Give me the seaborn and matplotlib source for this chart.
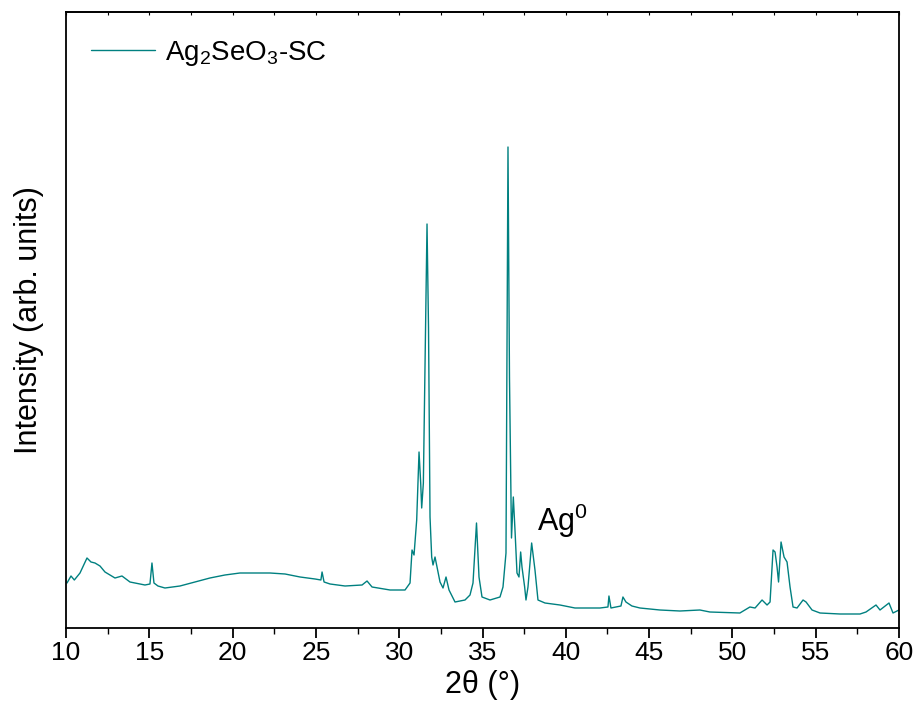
import matplotlib
matplotlib.use("Agg")
import matplotlib.pyplot as plt
import numpy as np
import pandas as pd
import seaborn as sns
from matplotlib.ticker import MultipleLocator

# XRD pattern (2theta in degrees, intensity in arb. units)
two_theta = [10.06, 10.3, 10.5, 10.84, 11.26, 11.5, 11.74, 12.04, 12.34, 12.94,
             13.36, 13.84, 14.74, 15.04, 15.16, 15.28, 15.52, 15.94, 16.84, 17.74,
             18.64, 19.54, 20.44, 21.04, 22.24, 23.15, 24.05, 24.95, 25.3, 25.37,
             25.49, 25.85, 26.75, 27.77, 28.07, 28.37, 29.45, 30.35, 30.65, 30.77,
             30.89, 31.05, 31.19, 31.29, 31.35, 31.45, 31.55, 31.67, 31.76, 31.85,
             31.95, 32.03, 32.15, 32.27, 32.45, 32.63, 32.81, 32.99, 33.35, 33.95,
             34.25, 34.43, 34.64, 34.79, 34.97, 35.45, 36.05, 36.23, 36.41, 36.53,
             36.62, 36.74, 36.85, 36.95, 37.07, 37.19, 37.29, 37.37, 37.53, 37.61,
             37.73, 37.95, 38.15, 38.33, 38.75, 39.65, 40.55, 42.05, 42.53, 42.59,
             42.71, 43.31, 43.43, 43.61, 43.97, 44.45, 45.65, 46.85, 48.05, 48.65,
             50.45, 51.05, 51.36, 51.78, 52.08, 52.26, 52.44, 52.56, 52.68, 52.77,
             52.92, 53.1, 53.28, 53.46, 53.64, 53.88, 54.24, 54.42, 54.78, 55.26,
             56.46, 57.66, 58.02, 58.62, 58.86, 59.4, 59.64, 60.0]
intensity = [45, 52, 48, 55, 70, 66, 65, 62, 56, 50,
             52, 46, 43, 44, 65, 45, 42, 40, 42, 46,
             50, 53, 55, 55, 55, 54, 51, 49, 48, 56,
             46, 44, 42, 43, 47, 41, 38, 38, 45, 78,
             73, 108, 176, 145, 120, 145, 260, 404, 300, 111,
             71, 63, 71, 61, 46, 40, 51, 38, 26, 28,
             33, 45, 105, 51, 31, 28, 31, 41, 75, 481,
             250, 90, 131, 98, 55, 51, 76, 61, 41, 28,
             41, 85, 58, 28, 25, 23, 20, 20, 21, 32,
             20, 22, 31, 26, 22, 20, 18, 17, 18, 16,
             15, 21, 20, 28, 23, 26, 78, 76, 61, 46,
             86, 71, 66, 41, 21, 20, 28, 26, 18, 15,
             14, 14, 16, 23, 18, 25, 15, 18]

series_label = r"Ag$_2$SeO$_3$-SC"
peak_label = r"Ag$^0$"

df = pd.DataFrame({"2theta": two_theta, "I": intensity})

sns.set_style("ticks")
plt.rcParams["font.family"] = ["Liberation Sans", "DejaVu Sans"]
plt.rcParams["mathtext.fontset"] = "custom"
plt.rcParams["mathtext.rm"] = "Liberation Sans"
plt.rcParams["mathtext.it"] = "Liberation Sans:italic"
plt.rcParams["mathtext.default"] = "regular"
plt.rcParams["text.color"] = "black"
plt.rcParams["axes.labelcolor"] = "black"
plt.rcParams["xtick.color"] = "black"
plt.rcParams["ytick.color"] = "black"

fig = plt.figure(figsize=(9.18, 7.21), dpi=100)
ax = fig.add_axes([66 / 918, 1 - 628 / 721, 833 / 918, 616 / 721])

sns.lineplot(data=df, x="2theta", y="I", ax=ax, color="#008080", linewidth=1.0,
             estimator=None, sort=False, label=series_label)

ax.set_xlim(10, 60)
ax.set_ylim(0, 616)
ax.xaxis.set_major_locator(MultipleLocator(5))
ax.xaxis.set_minor_locator(MultipleLocator(2.5))
ax.set_yticks([])
ax.tick_params(axis="x", which="major", direction="out", length=7, width=1.3,
               labelsize=19, pad=2)
ax.tick_params(axis="x", which="minor", direction="out", length=4, width=1.0)
sec = ax.secondary_xaxis("top")
sec.xaxis.set_major_locator(MultipleLocator(5))
sec.xaxis.set_minor_locator(MultipleLocator(2.5))
sec.tick_params(axis="x", which="both", direction="in", length=2, width=0.8,
                labeltop=False)
for s in ax.spines.values():
    s.set_linewidth(1.3)
    s.set_color("black")
sec.spines["top"].set_linewidth(1.3)

ax.set_xlabel("2θ (°)", fontsize=22, labelpad=4)
ax.set_ylabel("Intensity (arb. units)", fontsize=22, labelpad=16)

ax.text(38.3, 88, peak_label, fontsize=22, ha="left", va="bottom")

leg = ax.legend(loc="upper left", frameon=False, fontsize=20, handlelength=2.3,
                handletextpad=0.35, borderaxespad=0, bbox_to_anchor=(0.017, 0.974))

fig.savefig("out.png", dpi=100)
